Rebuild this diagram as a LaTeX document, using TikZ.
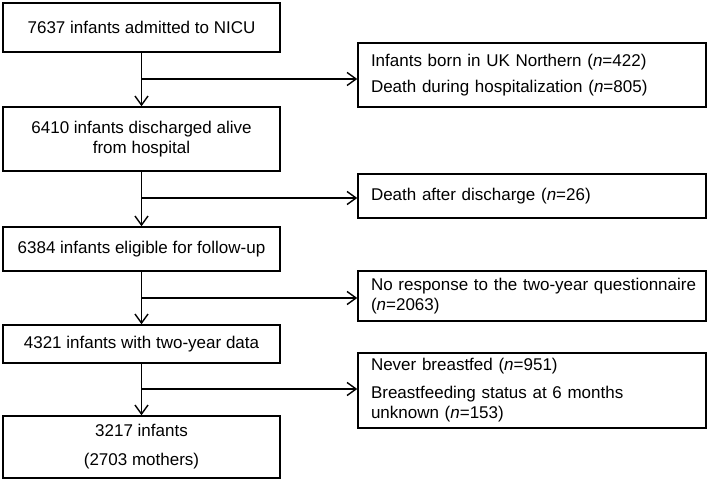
\documentclass[tikz,border=0pt]{standalone}
\usepackage{fontspec}
\setmainfont{Liberation Sans}
\usetikzlibrary{arrows.meta}
\begin{document}
\begin{tikzpicture}[x=1bp,y=-1bp,
  every node/.style={font=\fontsize{17bp}{20bp}\selectfont},
  mainbox/.style={draw, line width=1.5bp, minimum width=277bp, inner sep=0pt, align=center},
  sidebox/.style={draw, line width=1.5bp, text width=322bp, inner xsep=13bp, inner ysep=0pt, align=left},
  conn/.style={line width=1.4bp, -{Straight Barb[length=9bp,width=13bp,line width=1.4bp]}}]
\useasboundingbox (0,0) rectangle (709,480);
% main column
\node[mainbox, minimum height=49bp] (a) at (141.5,27.5) {7637 infants admitted to NICU};
\node[mainbox, minimum height=64bp] (b) at (141.5,139) {6410 infants discharged alive\\from hospital};
\node[mainbox, minimum height=44bp] (c) at (141.5,249) {6384 infants eligible for follow-up};
\node[mainbox, minimum height=38bp] (d) at (141.5,344) {4321 infants with two-year data};
\node[mainbox, minimum height=62bp] (e) at (141.5,447) {3217 infants\\[9bp](2703 mothers)};
% side boxes
\node[sidebox, minimum height=64bp] (r1) at (532,75) {Infants born in UK Northern (\textit{n}=422)\\[6bp]Death during hospitalization (\textit{n}=805)};
\node[sidebox, minimum height=44bp] (r2) at (532,196) {Death after discharge (\textit{n}=26)};
\node[sidebox, minimum height=50bp] (r3) at (532,296) {\mbox{No response to the two-year questionnaire}\\(\textit{n}=2063)};
\node[sidebox, minimum height=75bp] (r4) at (532,390.5) {Never breastfed (\textit{n}=951)\\[8bp]Breastfeeding status at 6 months\\unknown (\textit{n}=153)};
% junctions
\coordinate (j1) at (141.5,79);
\coordinate (j2) at (141.5,198);
\coordinate (j3) at (141.5,298);
\coordinate (j4) at (141.5,389);
% connectors
\draw[conn] (a) -- (b);
\draw[conn] (b) -- (c);
\draw[conn] (c) -- (d);
\draw[conn] (d) -- (e);
\draw[conn] (j1) -- (j1 -| r1.west);
\draw[conn] (j2) -- (j2 -| r2.west);
\draw[conn] (j3) -- (j3 -| r3.west);
\draw[conn] (j4) -- (j4 -| r4.west);
\end{tikzpicture}
\end{document}
